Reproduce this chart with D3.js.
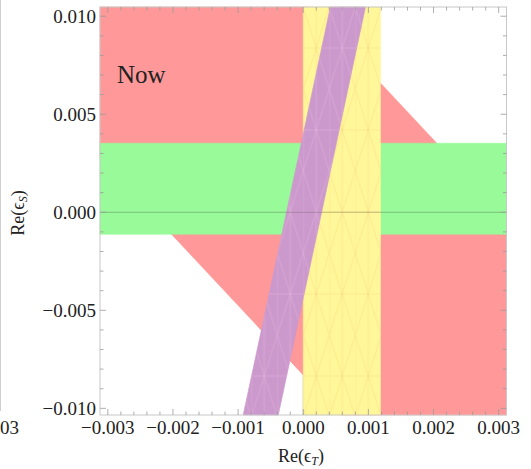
<!DOCTYPE html>
<html>
<head>
<meta charset="utf-8">
<script src="https://cdn.jsdelivr.net/npm/d3@7"></script>
<style>
  html, body { margin: 0; padding: 0; background: #fff; }
  svg { display: block; }
  text { font-family: "Liberation Serif", "DejaVu Serif", serif; fill: #222; }
</style>
</head>
<body>
<svg id="chart" width="531" height="469"></svg>
<script>
// Axis ranges and ticks
const xDomain = [-0.00312, 0.00312];
const yDomain = [-0.01034, 0.01047];
const xTicks = [-0.003, -0.002, -0.001, 0.000, 0.001, 0.002, 0.003];
const yTicks = [-0.010, -0.005, 0.000, 0.005, 0.010];
const xMinorStep = 0.0002;
const yMinorStep = 0.001;

// Allowed regions, each as lo <= a*ReεT + b*ReεS <= hi
const redCoef = [3.55, 1];          // ReεS + 3.55 ReεT
const redLimits = [-0.0083, 0.0108];
const greenCoef = [0, 1];           // ReεS
const greenLimits = [-0.00112, 0.00352];
const yellowCoef = [1, 0];          // ReεT
const yellowLimits = [0.0, 0.001185];
const purpleCoef = [1, -0.0643];    // ReεT - 0.0643 ReεS
const purpleLimits = [-0.000257, 0.000282];

const bands = [
  { name: "red",    coef: redCoef,    lim: redLimits,    fill: "#ff9999", mesh: null },
  { name: "green",  coef: greenCoef,  lim: greenLimits,  fill: "#99fa99", mesh: null },
  { name: "yellow", coef: yellowCoef, lim: yellowLimits, fill: "#fff799", mesh: "rgba(245,200,120,0.45)" },
  { name: "purple", coef: purpleCoef, lim: purpleLimits, fill: "#cc99cc", mesh: "rgba(235,190,225,0.5)" }
];

const svg = d3.select("#chart");
const L = 100, R = 506.5, T = 7, B = 415;
const x = d3.scaleLinear().domain(xDomain).range([L, R]);
const y = d3.scaleLinear().domain(yDomain).range([B, T]);

const tickFont = 19;
const titleFont = 18;

// Clip a polygon (data coords) against the half-plane a*px + b*py >= c
function clipHalf(poly, a, b, c) {
  const out = [];
  for (let i = 0; i < poly.length; i++) {
    const p = poly[i], q = poly[(i + 1) % poly.length];
    const fp = a * p[0] + b * p[1] - c, fq = a * q[0] + b * q[1] - c;
    if (fp >= 0) out.push(p);
    if ((fp >= 0) !== (fq >= 0)) {
      const t = fp / (fp - fq);
      out.push([p[0] + t * (q[0] - p[0]), p[1] + t * (q[1] - p[1])]);
    }
  }
  return out;
}
function bandPolygon(coef, lim) {
  let poly = [[xDomain[0], yDomain[0]], [xDomain[1], yDomain[0]],
              [xDomain[1], yDomain[1]], [xDomain[0], yDomain[1]]];
  poly = clipHalf(poly, coef[0], coef[1], lim[0]);
  poly = clipHalf(poly, -coef[0], -coef[1], -lim[1]);
  return poly;
}

// Faint triangulation mesh used inside some of the regions
const defs = svg.append("defs");
bands.filter(b => b.mesh).forEach(bd => {
  const p = defs.append("pattern").attr("id", "mesh-" + bd.name)
    .attr("patternUnits", "userSpaceOnUse")
    .attr("x", x(0)).attr("y", T)
    .attr("width", 26).attr("height", 82);
  p.append("path")
    .attr("d", "M0,0V82M13,0V82M0,0L13,41L0,82M26,0L13,41L26,82M0,41H26")
    .attr("fill", "none").attr("stroke", bd.mesh).attr("stroke-width", 0.7);
});

// Edge of a neighbouring panel at the left border
svg.append("line").attr("x1", 0.5).attr("x2", 0.5).attr("y1", 0).attr("y2", 411)
  .attr("stroke", "#cfcfcf").attr("stroke-width", 1);
svg.append("text").attr("x", 0).attr("y", 434).attr("text-anchor", "start")
  .attr("font-size", tickFont).text("03");

const plot = svg.append("g");
const line = d3.line().x(d => x(d[0])).y(d => y(d[1]));

// Vertical axis sits beneath the regions
plot.append("line").attr("x1", x(0)).attr("x2", x(0)).attr("y1", T).attr("y2", B)
  .attr("stroke", "rgba(60,60,60,0.4)").attr("stroke-width", 1);

bands.forEach(bd => {
  const d = line(bandPolygon(bd.coef, bd.lim)) + "Z";
  plot.append("path").attr("d", d)
    .attr("fill", bd.fill).attr("stroke", bd.fill).attr("stroke-width", 0.6);
  if (bd.mesh) {
    plot.append("path").attr("d", d).attr("fill", "url(#mesh-" + bd.name + ")");
  }
});

// Horizontal axis through the origin
plot.append("line").attr("x1", L).attr("x2", R).attr("y1", y(0)).attr("y2", y(0))
  .attr("stroke", "rgba(60,60,60,0.3)").attr("stroke-width", 1);

// Frame
svg.append("rect").attr("x", L).attr("y", T).attr("width", R - L).attr("height", B - T)
  .attr("fill", "none").attr("stroke", "#c8c8c8").attr("stroke-width", 1);

// Ticks on all four sides, drawn inward
const tickColor = "#9a9a9a";
const xMinor = d3.range(-0.003, 0.00301, xMinorStep);
const yMinor = d3.range(-0.010, 0.01001, yMinorStep);
const isMajor = (v, ticks) => ticks.some(t => Math.abs(t - v) < 1e-9);

const tg = svg.append("g").attr("stroke", tickColor).attr("stroke-width", 0.8);
xMinor.forEach(v => {
  const len = isMajor(v, xTicks) ? 6 : 3.5;
  tg.append("line").attr("x1", x(v)).attr("x2", x(v)).attr("y1", B).attr("y2", B - len);
  tg.append("line").attr("x1", x(v)).attr("x2", x(v)).attr("y1", T).attr("y2", T + len);
});
yMinor.forEach(v => {
  const len = isMajor(v, yTicks) ? 6 : 3.5;
  tg.append("line").attr("y1", y(v)).attr("y2", y(v)).attr("x1", L).attr("x2", L + len);
  tg.append("line").attr("y1", y(v)).attr("y2", y(v)).attr("x1", R).attr("x2", R - len);
});

const fmt = v => (v < 0 ? "\u2212" : "") + Math.abs(v).toFixed(3);

svg.append("g").selectAll("text").data(xTicks).join("text")
  .attr("x", d => x(d)).attr("y", 434)
  .attr("text-anchor", "middle").attr("font-size", tickFont)
  .text(fmt);

svg.append("g").selectAll("text").data(yTicks).join("text")
  .attr("x", 96).attr("y", d => y(d) + 6.5)
  .attr("text-anchor", "end").attr("font-size", tickFont)
  .text(fmt);

// Axis titles
const xt = svg.append("text").attr("x", 301).attr("y", 462)
  .attr("text-anchor", "middle").attr("font-size", titleFont);
xt.append("tspan").text("Re(");
xt.append("tspan").text("\u03f5");
xt.append("tspan").attr("font-style", "italic").attr("font-size", 12).attr("dy", 3).text("T");
xt.append("tspan").attr("dy", -3).text(")");

const yt = svg.append("text").attr("transform", "translate(24,213) rotate(-90)")
  .attr("text-anchor", "middle").attr("font-size", titleFont);
yt.append("tspan").text("Re(");
yt.append("tspan").text("\u03f5");
yt.append("tspan").attr("font-style", "italic").attr("font-size", 12).attr("dy", 3).text("S");
yt.append("tspan").attr("dy", -3).text(")");

// Panel label
svg.append("text").attr("x", 117).attr("y", 83).attr("font-size", 25)
  .attr("fill", "#111").text("Now");
</script>
</body>
</html>
